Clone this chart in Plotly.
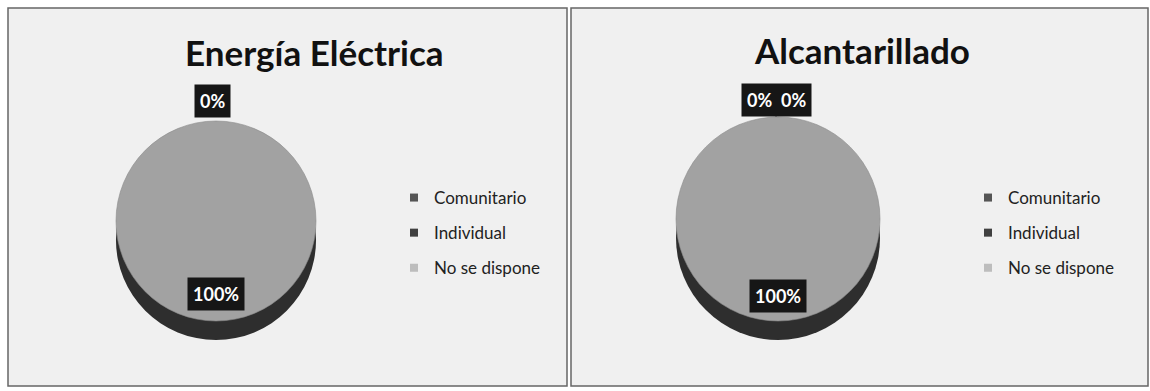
import plotly.graph_objects as go

# ---- data ----
categories = ["Comunitario", "Individual", "No se dispone"]
energia_values = [0, 0, 100]
alcantarillado_values = [0, 0, 100]
titles = ["Energía Eléctrica", "Alcantarillado"]

slice_colors = ["#5a5a5a", "#3c3c3c", "#a2a2a2"]
legend_colors = ["#555555", "#404040", "#bdbdbd"]
side_color = "#2e2e2e"
FONT = "Lato, 'Open Sans', sans-serif"

W, H = 1150, 391


def pct(v, vals):
    t = sum(vals)
    return f"{round(100 * v / t)}%" if t else "0%"


def dom_x(cx, d):
    return [(cx - d / 2) / W, (cx + d / 2) / W]


def dom_y(cy, d, shift=0):
    c = (H - cy - shift) / H
    return [c - d / 2 / H, c + d / 2 / H]


fig = go.Figure()

pies = [
    dict(vals=energia_values, cx=216, cy=221, d=200, depth=19, legend="legend"),
    dict(vals=alcantarillado_values, cx=778, cy=219, d=204, depth=19, legend="legend2"),
]

for p in pies:
    # depth (side) of the pie
    fig.add_trace(go.Pie(
        labels=categories, values=p["vals"], sort=False, direction="clockwise",
        marker=dict(colors=[side_color] * 3, line=dict(width=0)),
        textinfo="none", hoverinfo="skip", showlegend=False,
        domain=dict(x=dom_x(p["cx"], p["d"]), y=dom_y(p["cy"], p["d"], p["depth"])),
    ))
    # top face
    fig.add_trace(go.Pie(
        labels=categories, values=p["vals"], sort=False, direction="clockwise",
        marker=dict(colors=slice_colors, line=dict(width=0.6, color="#8a8a8a")),
        textinfo="none", showlegend=False,
        domain=dict(x=dom_x(p["cx"], p["d"]), y=dom_y(p["cy"], p["d"])),
    ))
    # legend entries for the categories
    for i, (cat, col) in enumerate(zip(categories, legend_colors)):
        fig.add_trace(go.Scatter(
            x=[None], y=[None], mode="markers", name=cat,
            marker=dict(symbol="square", size=8, color=col),
            legend=p["legend"], legendgroup=f"{p['legend']}_{i}", showlegend=True,
        ))

label_font = dict(family=FONT, size=18, color="white")
title_font = dict(family=FONT, size=35, color="#111")
common = dict(xref="paper", yref="paper", xanchor="center", yanchor="middle")
ann = [
    dict(text=f"<b>{titles[0]}</b>", x=315 / W, y=1 - 52 / H, showarrow=False, font=title_font, **common),
    dict(text=f"<b>{titles[1]}</b>", x=862 / W, y=1 - 50 / H, showarrow=False, font=title_font, **common),
    dict(text=f"<b>{pct(energia_values[0], energia_values)}</b>", x=212 / W, y=1 - 101 / H,
         showarrow=False, bgcolor="#161616", borderpad=5, font=label_font, **common),
    dict(text=f"<b>{pct(energia_values[2], energia_values)}</b>", x=216 / W, y=1 - 294 / H,
         showarrow=False, bgcolor="#161616", borderpad=5, font=label_font, **common),
    dict(text=f"<b>{pct(alcantarillado_values[0], alcantarillado_values)}&nbsp;&nbsp;"
              f"{pct(alcantarillado_values[1], alcantarillado_values)}</b>",
         x=776 / W, y=1 - 117 / H, ax=0, ay=-17, showarrow=True, arrowhead=0, arrowwidth=1,
         arrowcolor="#111", bgcolor="#161616", borderpad=5, font=label_font,
         xref="paper", yref="paper"),
    dict(text=f"<b>{pct(alcantarillado_values[2], alcantarillado_values)}</b>", x=778 / W,
         y=1 - 296 / H, showarrow=False, bgcolor="#161616", borderpad=5, font=label_font, **common),
]

shapes = [
    dict(type="rect", xref="paper", yref="paper", x0=8 / W, x1=567 / W, y0=1 - 386 / H, y1=1 - 8 / H,
         line=dict(color="#666", width=1.5), fillcolor="#f0f0f0", layer="below"),
    dict(type="rect", xref="paper", yref="paper", x0=571 / W, x1=1148 / W, y0=1 - 386 / H, y1=1 - 8 / H,
         line=dict(color="#666", width=1.5), fillcolor="#f0f0f0", layer="below"),
]

legend_common = dict(font=dict(family=FONT, size=17, color="#222"), bgcolor="rgba(0,0,0,0)",
                     xanchor="left", yanchor="middle", itemclick=False, itemdoubleclick=False,
                     tracegroupgap=10, traceorder="grouped")

fig.update_layout(
    width=W, height=H, margin=dict(l=0, r=0, t=0, b=0),
    paper_bgcolor="white", plot_bgcolor="rgba(0,0,0,0)",
    xaxis=dict(visible=False), yaxis=dict(visible=False),
    annotations=ann, shapes=shapes,
    legend=dict(x=394 / W, y=1 - 233 / H, **legend_common),
    legend2=dict(x=968 / W, y=1 - 233 / H, **legend_common),
)

fig.write_html("out.html")
